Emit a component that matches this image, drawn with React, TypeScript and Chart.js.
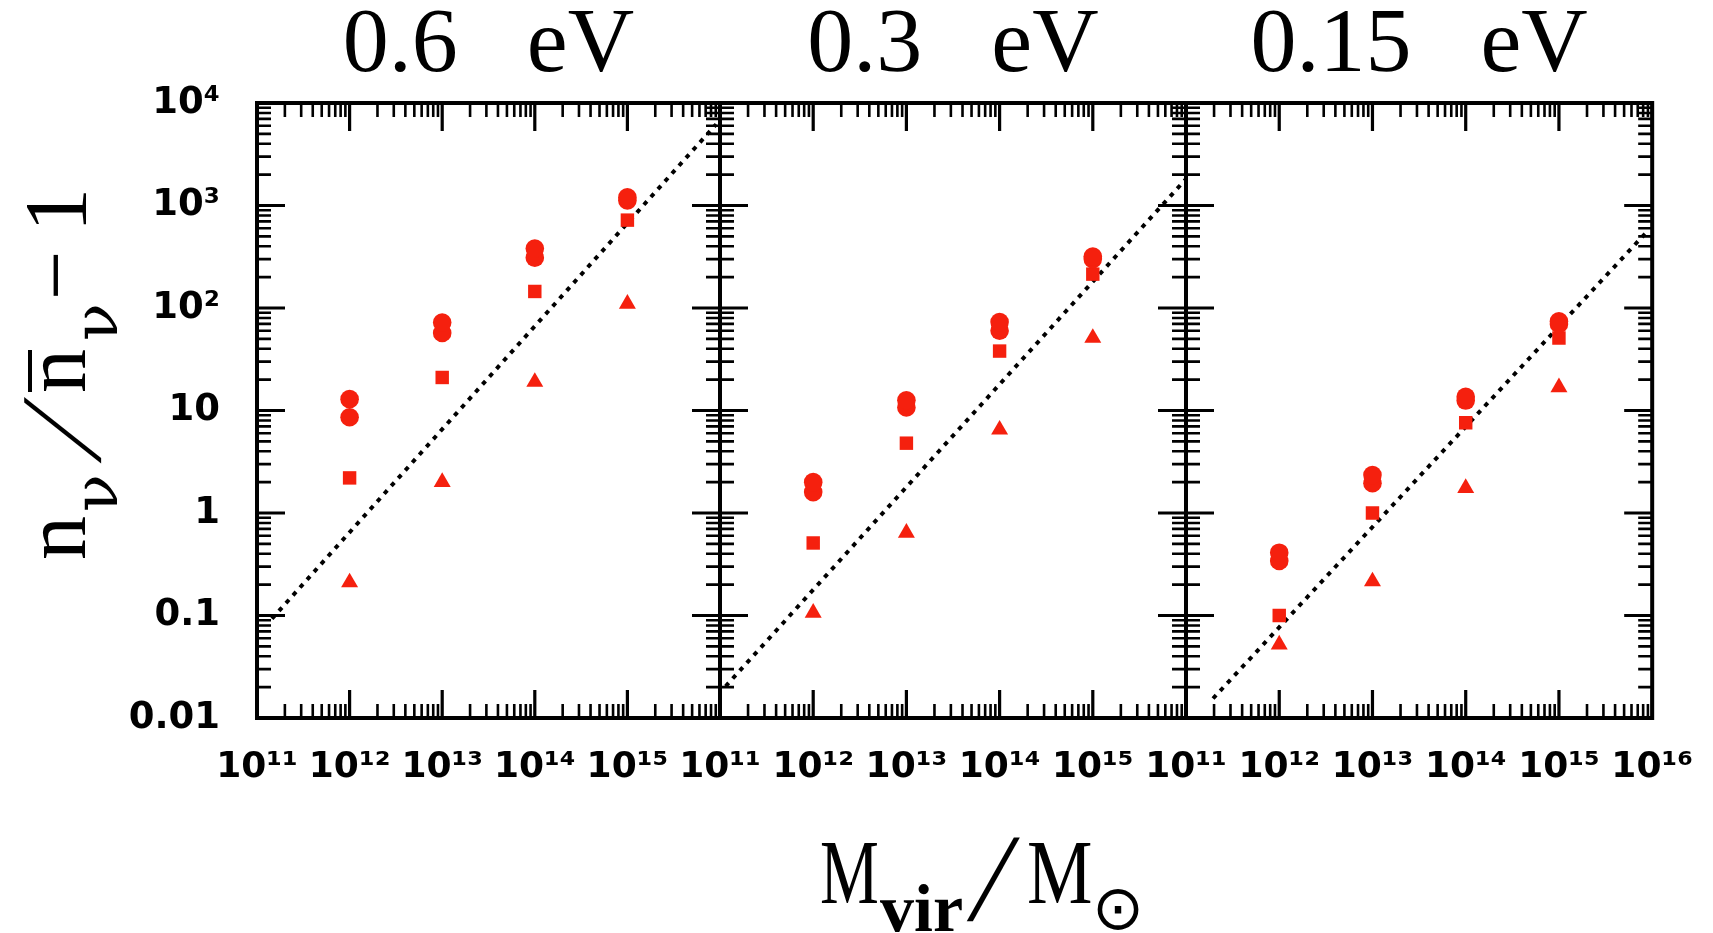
import React, { useEffect, useRef } from 'react';
import { Chart, registerables } from 'chart.js';

Chart.register(...registerables);

// ---------------- data ----------------
const massBins = [1e12, 1e13, 1e14, 1e15];
const panelTitles = ['0.6   eV', '0.3   eV', '0.15   eV'];

// m_nu = 0.6 eV
const p1CircleHigh = [12.9, 72, 380, 1200];
const p1CircleLow = [8.6, 57, 310, 1120];
const p1Square = [2.2, 21, 145, 720];
const p1Triangle = [0.21, 2.0, 19, 110];
const p1LineM = [1.45e11, 9.1e15];
const p1LineN = [0.093, 6200];

// m_nu = 0.3 eV
const p2CircleHigh = [2.0, 12.6, 73, 318];
const p2CircleLow = [1.6, 10.7, 60, 300];
const p2Square = [0.51, 4.8, 38, 214];
const p2Triangle = [0.106, 0.64, 6.5, 51];
const p2LineM = [1.15e11, 9.8e15];
const p2LineN = [0.0204, 1780];

// m_nu = 0.15 eV
const p3CircleHigh = [0.41, 2.35, 13.6, 74];
const p3CircleLow = [0.34, 1.95, 12.5, 70];
const p3Square = [0.10, 1.0, 7.6, 51];
const p3Triangle = [0.052, 0.215, 1.75, 16.8];
const p3LineM = [1.95e11, 8.9e15];
const p3LineN = [0.0155, 562];

// ticks
const xTickValues = [1e11, 1e12, 1e13, 1e14, 1e15, 1e16];
const xTickLabels = ['10¹¹', '10¹²', '10¹³', '10¹⁴', '10¹⁵', '10¹⁶'];
const yTickValues = [0.01, 0.1, 1, 10, 100, 1000, 10000];
const yTickLabels = ['0.01', '0.1', '1', '10', '10²', '10³', '10⁴'];
const minorFactors = [2, 3, 4, 5, 6, 7, 8, 9];

const RED = 'rgb(245, 32, 14)';

// ---------------- plugins ----------------
const frameTicksPlugin = {
  id: 'frameTicks',
  afterDatasetsDraw(chart: any) {
    const { ctx, chartArea: a, scales } = chart;
    const xs = scales.x;
    const ys = scales.y;
    const MAJ = 28;
    const MIN = 14;
    ctx.save();
    ctx.strokeStyle = '#000';
    ctx.lineCap = 'butt';
    const xTick = (v: number, len: number, lw: number) => {
      const px = xs.getPixelForValue(v);
      if (px < a.left - 0.5 || px > a.right + 0.5) return;
      ctx.lineWidth = lw;
      ctx.beginPath();
      ctx.moveTo(px, a.bottom);
      ctx.lineTo(px, a.bottom - len);
      ctx.moveTo(px, a.top);
      ctx.lineTo(px, a.top + len);
      ctx.stroke();
    };
    const yTick = (v: number, len: number, lw: number) => {
      const py = ys.getPixelForValue(v);
      if (py < a.top - 0.5 || py > a.bottom + 0.5) return;
      ctx.lineWidth = lw;
      ctx.beginPath();
      ctx.moveTo(a.left, py);
      ctx.lineTo(a.left + len, py);
      ctx.moveTo(a.right, py);
      ctx.lineTo(a.right - len, py);
      ctx.stroke();
    };
    xTickValues.forEach((d) => {
      xTick(d, MAJ, 3.2);
      minorFactors.forEach((k) => xTick(d * k, MIN, 2.6));
    });
    yTickValues.forEach((d) => {
      yTick(d, MAJ, 3.2);
      minorFactors.forEach((k) => yTick(d * k, MIN, 2.6));
    });
    ctx.lineWidth = 4;
    ctx.strokeRect(a.left, a.top, a.right - a.left, a.bottom - a.top);
    ctx.restore();
  },
};

const yTitlePlugin = {
  id: 'yTitle',
  afterDraw(chart: any) {
    const { ctx, chartArea: a } = chart;
    ctx.save();
    ctx.translate(a.left - 172, a.bottom - 158);
    ctx.rotate(-Math.PI / 2);
    ctx.fillStyle = '#000';
    ctx.textAlign = 'left';
    ctx.textBaseline = 'alphabetic';
    const main = '88px "Liberation Serif"';
    const sub = '62px "DejaVu Serif"';
    ctx.font = main;
    ctx.fillText('n', 0, 0);
    ctx.font = sub;
    ctx.fillText('ν', 48, 32);
    ctx.save();
    ctx.translate(97, 15);
    ctx.transform(1, 0, -0.45, 1, 0, 0);
    ctx.font = '115px "Liberation Serif"';
    ctx.fillText('/', 0, 0);
    ctx.restore();
    ctx.font = main;
    ctx.fillText('n', 167, 0);
    ctx.fillRect(168, -57, 42, 4);
    ctx.font = sub;
    ctx.fillText('ν', 219, 32);
    ctx.font = main;
    ctx.fillText('−', 260, 0);
    ctx.fillText('1', 328, 0);
    ctx.restore();
  },
};

const xTitlePlugin = {
  id: 'xTitle',
  afterDraw(chart: any) {
    const { ctx, chartArea: a } = chart;
    const bx = a.left + 100;
    const by = a.bottom + 185;
    ctx.save();
    ctx.fillStyle = '#000';
    ctx.textAlign = 'left';
    ctx.textBaseline = 'alphabetic';
    ctx.save();
    ctx.translate(bx, by);
    ctx.scale(0.72, 1);
    ctx.font = '92px "Liberation Serif"';
    ctx.fillText('M', 0, 0);
    ctx.restore();
    ctx.font = 'bold 68px "Liberation Serif"';
    ctx.fillText('vir', bx + 60, by + 28);
    ctx.save();
    ctx.translate(bx + 147, by + 17);
    ctx.transform(1, 0, -0.22, 1, 0, 0);
    ctx.font = '125px "Liberation Serif"';
    ctx.fillText('/', 0, 0);
    ctx.restore();
    ctx.save();
    ctx.translate(bx + 207, by);
    ctx.scale(0.8, 1);
    ctx.font = '92px "Liberation Serif"';
    ctx.fillText('M', 0, 0);
    ctx.restore();
    // sun symbol, sized from its measured bounding box
    ctx.font = '100px "DejaVu Sans"';
    const m0 = ctx.measureText('⊙');
    const w0 = m0.actualBoundingBoxLeft + m0.actualBoundingBoxRight;
    const size = w0 > 0 ? (100 * 41) / w0 : 56;
    ctx.font = `${size}px "DejaVu Sans"`;
    const m = ctx.measureText('⊙');
    ctx.fillText('⊙', bx + 277 + m.actualBoundingBoxLeft, by + 27 - m.actualBoundingBoxDescent);
    ctx.restore();
  },
};

// ---------------- chart building ----------------
type Panel = {
  title: string;
  circleHigh: number[];
  circleLow: number[];
  square: number[];
  triangle: number[];
  lineM: number[];
  lineN: number[];
  padLeft: number;
  padRight: number;
  xLabelCount: number;
};

const panels: Panel[] = [
  { title: panelTitles[0], circleHigh: p1CircleHigh, circleLow: p1CircleLow, square: p1Square, triangle: p1Triangle, lineM: p1LineM, lineN: p1LineN, padLeft: 0, padRight: 993, xLabelCount: 5 },
  { title: panelTitles[1], circleHigh: p2CircleHigh, circleLow: p2CircleLow, square: p2Square, triangle: p2Triangle, lineM: p2LineM, lineN: p2LineN, padLeft: 720, padRight: 527, xLabelCount: 5 },
  { title: panelTitles[2], circleHigh: p3CircleHigh, circleLow: p3CircleLow, square: p3Square, triangle: p3Triangle, lineM: p3LineM, lineN: p3LineN, padLeft: 1186, padRight: 60, xLabelCount: 6 },
];

const pts = (xs: number[], ys: number[]) => xs.map((x, i) => ({ x, y: ys[i] }));

function makeConfig(p: Panel, idx: number): any {
  const markerBase = { backgroundColor: RED, borderColor: RED, borderWidth: 0, showLine: false };
  const xVals = xTickValues.slice(0, p.xLabelCount);
  const xLabs = xTickLabels.slice(0, p.xLabelCount);
  const extraPlugins: any[] = [frameTicksPlugin];
  if (idx === 0) extraPlugins.push(yTitlePlugin);
  if (idx === 1) extraPlugins.push(xTitlePlugin);
  return {
    type: 'scatter',
    data: {
      datasets: [
        { label: 'circle a', data: pts(massBins, p.circleHigh), pointStyle: 'circle', pointRadius: 9.3, ...markerBase },
        { label: 'circle b', data: pts(massBins, p.circleLow), pointStyle: 'circle', pointRadius: 9.3, ...markerBase },
        { label: 'square', data: pts(massBins, p.square), pointStyle: 'rect', pointRadius: 9.5, ...markerBase },
        { label: 'triangle', data: pts(massBins, p.triangle), pointStyle: 'triangle', pointRadius: 9.8, ...markerBase },
        {
          label: 'linear',
          data: pts(p.lineM, p.lineN),
          showLine: true,
          pointRadius: 0,
          borderColor: '#000',
          borderWidth: 4,
          borderDash: [4.5, 6],
          borderCapStyle: 'butt',
          fill: false,
        },
      ],
    },
    options: {
      animation: false,
      responsive: false,
      events: [],
      layout: { padding: { left: p.padLeft, right: p.padRight, top: 0, bottom: 115 } },
      plugins: {
        legend: { display: false },
        tooltip: { enabled: false },
        title: {
          display: true,
          text: p.title,
          fullSize: false,
          color: '#000',
          font: { family: 'Liberation Serif', size: 92, weight: 'normal', lineHeight: 1 },
          padding: { top: 1, bottom: 10 },
        },
      },
      scales: {
        x: {
          type: 'logarithmic',
          position: 'bottom',
          min: 1e11,
          max: 1e16,
          grid: { display: false },
          border: { display: false },
          ticks: {
            autoSkip: false,
            maxRotation: 0,
            minRotation: 0,
            padding: 20,
            color: '#000',
            font: { family: 'DejaVu Sans', size: 36, weight: 'bold' },
            callback: (_v: any, i: number) => xLabs[i],
          },
          afterBuildTicks: (s: any) => {
            s.ticks = xVals.map((v) => ({ value: v }));
          },
          afterFit: (s: any) => {
            s.height = 100;
          },
        },
        y: {
          type: 'logarithmic',
          position: 'left',
          display: idx === 0,
          min: 0.01,
          max: 1e4,
          grid: { display: false },
          border: { display: false },
          ticks: {
            autoSkip: false,
            padding: 29,
            color: '#000',
            font: { family: 'DejaVu Sans', size: 37, weight: 'bold' },
            callback: (_v: any, i: number) => yTickLabels[i],
          },
          afterBuildTicks: (s: any) => {
            s.ticks = yTickValues.map((v) => ({ value: v }));
          },
          afterFit: (s: any) => {
            if (idx === 0) s.width = 257;
          },
        },
      },
    },
    plugins: extraPlugins,
  };
}

export default function App() {
  const c0 = useRef<HTMLCanvasElement>(null);
  const c1 = useRef<HTMLCanvasElement>(null);
  const c2 = useRef<HTMLCanvasElement>(null);

  useEffect(() => {
    const refs = [c0, c1, c2];
    const charts = panels.map((p, i) => new Chart(refs[i].current as HTMLCanvasElement, makeConfig(p, i)));
    return () => charts.forEach((c) => c.destroy());
  }, []);

  const cs: React.CSSProperties = { position: 'absolute', left: 0, top: 0 };
  return (
    <div style={{ position: 'absolute', left: 0, top: 0, width: 1713, height: 933, background: '#fff', overflow: 'hidden' }}>
      <canvas ref={c0} width={1713} height={933} style={cs} />
      <canvas ref={c1} width={1713} height={933} style={cs} />
      <canvas ref={c2} width={1713} height={933} style={cs} />
    </div>
  );
}
